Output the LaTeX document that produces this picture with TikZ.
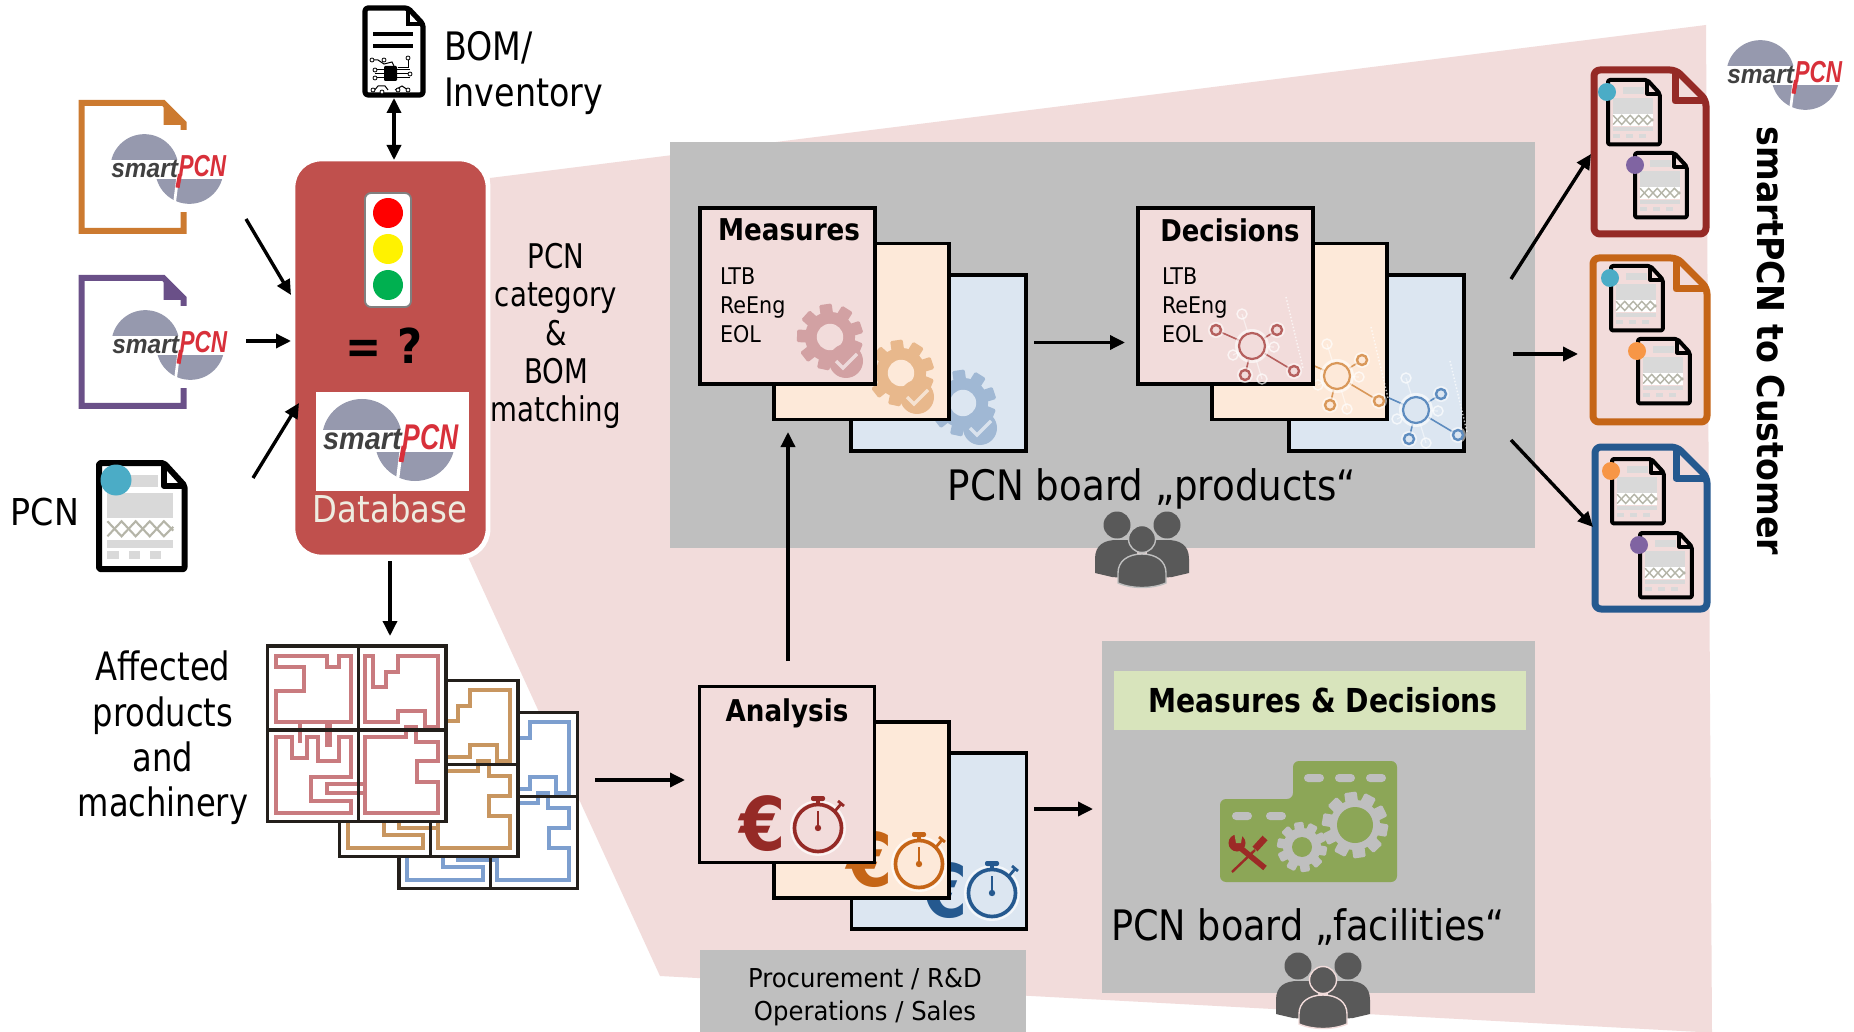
\documentclass[tikz,border=0pt]{standalone}
\usepackage{fontspec}
\usetikzlibrary{arrows.meta,shapes.misc}
\setmainfont{DejaVu Sans Condensed}
\newfontfamily\logofont{Liberation Sans}
\def\uu{0.5pt}
\definecolor{pinkbg}{HTML}{F2DCDB}
\definecolor{cardpeach}{HTML}{FDE9D9}
\definecolor{cardblue}{HTML}{DCE6F1}
\definecolor{panel}{HTML}{BFBFBF}
\definecolor{dbred}{HTML}{C0504D}
\definecolor{hdrgreen}{HTML}{D8E4BC}
\definecolor{factory}{HTML}{8CA657}
\definecolor{toolred}{HTML}{9C2A26}
\definecolor{peoplegray}{HTML}{595959}
\definecolor{logogray}{HTML}{9699AE}
\definecolor{logored}{HTML}{D8303A}
\definecolor{docred}{HTML}{952A26}
\definecolor{docorange}{HTML}{C56517}
\definecolor{docblue}{HTML}{25598F}
\definecolor{docpurple}{HTML}{6A5088}
\definecolor{doctan}{HTML}{CC7A30}
\definecolor{dotblue}{HTML}{4BACC6}
\definecolor{dotpurple}{HTML}{8064A2}
\definecolor{dotorange}{HTML}{F79646}
\definecolor{dbtext}{HTML}{EEECE1}
\definecolor{pcbframe}{HTML}{231F1B}
\definecolor{barGray}{HTML}{D9D9D9}
\definecolor{meshGray}{HTML}{B5B5A8}
\definecolor{lightgreen}{HTML}{00B050}
\definecolor{tracepink}{HTML}{C97B7F}
\definecolor{tracetan}{HTML}{C89660}
\definecolor{traceblue}{HTML}{7D9FCF}
\definecolor{gearpink}{HTML}{D2A1A3}
\definecolor{gearpeach}{HTML}{E8B88C}
\definecolor{gearblue}{HTML}{A0B8D4}
\definecolor{netpink}{HTML}{B5605E}
\definecolor{netpeach}{HTML}{D9985A}
\definecolor{netblue}{HTML}{5E8CBF}
\tikzset{
  conn/.style={line width=1.7pt,-{Triangle[length=7.5pt,width=7pt]}},
  connboth/.style={line width=1.7pt,{Triangle[length=7.5pt,width=7pt]}-{Triangle[length=7.5pt,width=7pt]}},
  card/.style={draw=black,line width=1.8pt,minimum width=175*\uu,minimum height=176*\uu,inner sep=0pt,outer sep=0pt},
  panelbox/.style={fill=panel,inner sep=0pt,outer sep=0pt},
  lbl/.style={inner sep=0pt,outer sep=0pt,align=center,text=black},
}
\newcommand{\logomark}[4]{% name,x,y,scale
  \begin{scope}[shift={(#2,#3)},scale=#4]
    \begin{scope}\clip (-70,-50) rectangle (70,-11);\fill[logogray] (-29,-1) circle (40);\end{scope}
    \begin{scope}\clip (-70,12) rectangle (70,50);\fill[logogray] (24,1) circle (40);\end{scope}
    \draw[white,line width=1.6pt*#4] (10,12)--(6,44);
    \draw[logored,line width=2.4pt*#4] (13,6)--(10,22);
    \node[inner sep=0pt,anchor=east,text=black!75,xscale=.93*#4,yscale=#4] (#1s) at (11,0)
      {\logofont\bfseries\itshape\fontsize{15.5}{15.5}\selectfont smart};
    \node[inner sep=0pt,anchor=west,text=logored,xscale=.78*#4,yscale=1.05*#4] (#1p) at (11,-3)
      {\logofont\bfseries\itshape\fontsize{17}{17}\selectfont PCN};
  \end{scope}}
\newcommand{\tandoc}[4]{% x0,y0,y1,colour
  \draw[#4,line width=3pt] (#1+102,#3-20)--(#1+102,#3)--(#1,#3)--(#1,#2)--(#1+82,#2)--(#1+102,#2+20)--(#1+102,#2+30);
  \fill[#4] (#1+82,#2)--(#1+104,#2+20)--(#1+104,#2+22)--(#1+82,#2+22)--cycle;}
\newcommand{\sheet}[4]{% x,y,scale,line width
  \begin{scope}[shift={(#1,#2)},scale=#3]
    \fill[barGray] (26,13) rectangle (63,25);
    \fill[barGray] (9,32) rectangle (79,59);
    \fill[white] (9,60) rectangle (79,80);
    \draw[meshGray,line width=.9pt*#3+.2pt] (9,62)--(24,78)--(39,62)--(54,78)--(69,62)--(79,72);
    \draw[meshGray,line width=.9pt*#3+.2pt] (9,78)--(24,62)--(39,78)--(54,62)--(69,78)--(79,68);
    \fill[barGray] (9,82) rectangle (79,90);
    \fill[barGray] (9,94) rectangle (21,102);
    \fill[barGray] (32,94) rectangle (44,102);
    \fill[barGray] (54,94) rectangle (66,102);
    \draw[black,line width=#4,rounded corners=1pt,line join=round] (0,0)--(69,0)--(91,24)--(91,113)--(0,113)--cycle;
    \draw[black,line width=#4,line join=round] (69,0)--(69,24)--(91,24);
  \end{scope}}
\newcommand{\bigdoc}[5]{% x0,y0,x1,y1,colour
  \draw[#5,line width=3.5pt,rounded corners=3pt,line join=round] (#1,#2)--(#3-30,#2)--(#3,#2+30)--(#3,#4)--(#1,#4)--cycle;
  \draw[#5,line width=3.5pt,line join=round] (#3-31,#2)--(#3-31,#2+31)--(#3,#2+31);}
\newcommand{\gearicon}[6]{% x,y,r,colour,hole colour,n
  \begin{scope}[shift={(#1,#2)}]
    \fill[#4] (0,0) circle (0.76*#3);
    \foreach \ang in {1,...,#6}{\fill[#4,rotate=\ang*360/#6+8,rounded corners=.7pt] (-.19*#3,-#3) rectangle (.19*#3,-.6*#3);}
    \fill[#5] (0,0) circle (0.4*#3);
  \end{scope}}
\newcommand{\checkbadge}[3]{% x,y,colour
  \begin{scope}[shift={(#1,#2)}]
    \fill[#3] (0,0) circle (17);
    \draw[white,opacity=.6,line width=1.6pt] (-10,0)--(-3,7)--(11,-7);
  \end{scope}}
\newcommand{\neticon}[4]{% dx,dy,colour,bg
  \begin{scope}[shift={(#1,#2)}]
    \draw[white,opacity=.7,densely dotted,line width=.7pt] (1286,297)--(1303,368);
    \foreach \px/\py in {1242/314,1233/355,1274/347,1262/379}{
      \draw[white,opacity=.5,line width=.6pt] (1252,346)--(\px,\py);
      \draw[white,opacity=.7,line width=.7pt] (\px,\py) circle (5);}
    \foreach \px/\py in {1216/330,1277/330,1245/375,1294/371}{
      \draw[#3,line width=.8pt] (1252,346)--(\px,\py);
      \fill[white,opacity=.55] (\px,\py) circle (8);
      \draw[#3,fill=#4,line width=1.2pt] (\px,\py) circle (5);}
    \draw[white,fill=#4,line width=2pt,opacity=.6] (1252,346) circle (15);
    \draw[#3,fill=#4,line width=1.1pt] (1252,346) circle (13);
  \end{scope}}
\newcommand{\swatch}[3]{% x,y,colour
  \begin{scope}[shift={(#1,#2)}]
    \draw[white,opacity=.7,line width=1pt] (0,0) circle (27);
    \draw[#3,line width=1.8pt] (0,0) circle (23.5);
    \fill[#3,rounded corners=1pt] (-7,-32) rectangle (7,-27);
    \fill[#3] (-2,-28) rectangle (2,-23);
    \draw[#3,line width=1.4pt] (17,-17)--(23,-24);
    \draw[#3,line width=1.4pt] (20,-27)--(26,-22);
    \draw[#3,line width=1pt] (0,-17)--(0,0);
    \fill[#3] (0,0) circle (3.2);
  \end{scope}}
\newcommand{\peopleicon}[3]{% cx,y head,halo
  \begin{scope}[shift={(#1,#2)}]
    \foreach \sgn in {-1,1}{
      \fill[peoplegray] (\sgn*25,-14) circle (13.5);
      \fill[peoplegray] (\sgn*47,34) -- (\sgn*47,20) .. controls (\sgn*47,6) and (\sgn*38,1) .. (\sgn*25,1)
         -- (\sgn*5,1) -- (\sgn*5,40) -- (\sgn*30,38) -- cycle;}
    \draw[#3,fill=peoplegray,line width=.7pt] (0,0) circle (13.5);
    \draw[#3,fill=peoplegray,line width=.7pt] (-24,44) -- (-24,34) .. controls (-24,22) and (-14,15) .. (0,15)
       .. controls (14,15) and (24,22) .. (24,34) -- (24,44) .. controls (10,50) and (-10,50) .. (-24,44) -- cycle;
  \end{scope}}
\newcommand{\pcbsheet}[3]{% dx,dy,trace colour
  \begin{scope}[x=0.20408pt,y=-0.16667pt,shift={(#1,1680+#2)}]
    \fill[white] (655,258) rectangle (1092,785);
    \begin{scope}[#3,line width=2pt,line join=miter]
      \draw (675,287)--(800,287)--(800,322)--(830,322)--(830,287)--(860,287)--(860,487)--(675,487)--(675,392)--(745,392)--(745,322)--(675,322)--cycle;
      \draw (895,287)--(915,287)--(915,380)--(945,380)--(945,335)--(975,335)--(975,287)--(1072,287)--(1072,500)--(1040,500)--(1040,452)--(975,452)--(975,487)--(895,487)--cycle;
      \draw (675,530)--(715,530)--(715,595)--(752,595)--(752,530)--(780,530)--(780,603)--(830,603)--(830,530)--(860,530)--(860,652)--(763,652)--(763,722)--(860,722)--(860,760)--(675,760)--cycle;
      \draw (895,672)--(800,672)--(800,700)--(895,700);
      \draw (895,700)--(895,530)--(995,530)--(995,500)--(1020,500)--(1020,545)--(1072,545)--(1072,603)--(1022,603)--(1022,665)--(1072,665)--(1072,760)--(895,760)--cycle;
      \draw[line width=3.2pt] (805,490)--(805,560);
      \draw (735,490)--(735,548);
    \end{scope}
    \draw[pcbframe,line width=1.8pt] (655,258) rectangle (1092,785);
    \draw[pcbframe,line width=1.6pt] (878,258)--(878,785);
    \draw[pcbframe,line width=1.6pt] (655,510)--(1092,510);
  \end{scope}}
\begin{document}
\begin{tikzpicture}[x=0.5pt,y=-0.5pt]
\useasboundingbox (0,0) rectangle (1854,1032);
\fill[white] (0,0) rectangle (1854,1032);
% pink funnel
\fill[pinkbg] (490,178)--(1706,25)--(1712,1032)--(1700,1032)--(660,976)--(468,557)--cycle;
% grey panels
\node[panelbox,minimum width=865*\uu,minimum height=406*\uu] (pnlprod) at (1102,345) {};
\node[panelbox,minimum width=433*\uu,minimum height=352*\uu] (pnlfac) at (1318.5,817) {};
\node[panelbox,minimum width=326*\uu,minimum height=82*\uu] (pnlteam) at (863,991) {};
% database
\node[draw=white,fill=dbred,line width=2.4pt,rounded corners=14pt,minimum width=195*\uu,minimum height=398*\uu,inner sep=0pt,outer sep=0pt] (db) at (390.5,358) {};
\node[draw=black!50,fill=white,line width=.9pt,rounded corners=3pt,minimum width=46*\uu,minimum height=114*\uu,inner sep=0pt] (traffic) at (388,250) {};
\fill[red] (388,213) circle (15);
\fill[yellow] (388,249) circle (15);
\fill[lightgreen] (388,285) circle (15);
\node[lbl,font=\bfseries\fontsize{24}{24}\selectfont] (eqq) at (384,346) {= ?};
\node[fill=white,minimum width=153*\uu,minimum height=99*\uu,inner sep=0pt] (dblogo) at (392.5,441.5) {};
\logomark{ldb}{391}{440}{1}
\node[lbl,text=dbtext,xscale=.97,font=\fontsize{18.5}{18.5}\selectfont] (dbname) at (390,509) {Database};
% input documents
\tandoc{81.5}{103}{231}{doctan}
\fill[white] (105,130) rectangle (236,212);
\logomark{l1}{169}{169}{.85}
\tandoc{81.5}{278}{406}{docpurple}
\fill[white] (105,306) rectangle (236,388);
\logomark{l2}{170}{345}{.85}
\sheet{99}{463}{.94}{3pt}
\fill[dotblue] (116,480) circle (15.5);
\node[lbl,font=\fontsize{18.5}{18.5}\selectfont] (pcnlbl) at (45,512) {PCN};
% BOM document
\draw[black,line width=2.6pt,rounded corners=1.5pt,line join=round] (365,8)--(408,8)--(423,24)--(423,95)--(365,95)--cycle;
\draw[black,line width=1.8pt] (408,8)--(408,24)--(423,24);
\draw[black,line width=1.6pt] (373,34)--(413,34);
\draw[black,line width=1.6pt] (373,46)--(413,46);
\fill[black,rounded corners=.6pt] (384,66) rectangle (397,81);
\foreach \yy in {70,74,78}{\draw[black,line width=.5pt] (375,\yy)--(384,\yy);\draw[black,line width=.5pt] (397,\yy)--(410,\yy);}
\draw[black,line width=.5pt] (372,60)--(378,60)--(384,64)--(392,62)--(394,66);
\draw[black,line width=.5pt] (408,59)--(408,68)--(398,68);
\draw[black,line width=.5pt] (373,92)--(378,86)--(385,86)--(388,90);
\draw[black,line width=.5pt] (395,90)--(402,86)--(408,90);
\foreach \px/\py in {372/60,384/60,408/58,375/70,375/78,410/74,373/90,382/92,398/90,408/90}{\draw[black,line width=.4pt,fill=white] (\px,\py) circle (2);}
\node[lbl,anchor=west,align=left,xscale=1,yscale=1.06,font=\fontsize{18.5}{21.3}\selectfont] (bomlbl) at (444,73) {BOM/\\Inventory};
\node[lbl,xscale=.93,yscale=1.03,font=\fontsize{16.5}{18.5}\selectfont] (matchlbl) at (556,336) {PCN\\category\\\&\\BOM\\matching};
% affected products
\node[lbl,xscale=.94,yscale=1.03,font=\fontsize{19}{22}\selectfont] (afflbl) at (163,738) {Affected\\products\\and\\machinery};
\pcbsheet{323}{200}{traceblue}
\pcbsheet{177}{104}{tracetan}
\pcbsheet{0}{0}{tracepink}
% measures stack
\node[card,fill=cardblue] (mback) at (938.5,363) {};
\gearicon{963}{403}{33}{gearblue}{cardblue}{9}
\checkbadge{980}{428}{gearblue}
\node[card,fill=cardpeach] (mmid) at (861.5,331.5) {};
\gearicon{901}{373}{33}{gearpeach}{cardpeach}{9}
\checkbadge{917}{397}{gearpeach}
\node[card,fill=pinkbg] (mfront) at (787.5,296) {};
\gearicon{830}{337}{33}{gearpink}{pinkbg}{9}
\checkbadge{846}{361}{gearpink}
\node[lbl,xscale=.97,font=\bfseries\fontsize{15}{15}\selectfont] (mtitle) at (789,230) {Measures};
\node[lbl,anchor=west,align=left,font=\fontsize{11.5}{14.5}\selectfont] (mlist) at (720,305) {LTB\\ReEng\\EOL};
% decisions stack
\node[card,fill=cardblue] (dback) at (1376.5,363) {};
\neticon{164}{64}{netblue}{cardblue}
\node[card,fill=cardpeach] (dmid) at (1299.5,331.5) {};
\neticon{85}{30}{netpeach}{cardpeach}
\node[card,fill=pinkbg] (dfront) at (1225.5,296) {};
\neticon{0}{0}{netpink}{pinkbg}
\node[lbl,xscale=.96,font=\bfseries\fontsize{15}{15}\selectfont] (dtitle) at (1230,230) {Decisions};
\node[lbl,anchor=west,align=left,font=\fontsize{11.5}{14.5}\selectfont] (dlist) at (1162,305) {LTB\\ReEng\\EOL};
\node[lbl,xscale=.985,font=\fontsize{21}{21}\selectfont] (prodlbl) at (1152,489) {PCN board „products“};
\peopleicon{1142}{539}{panel}
% analysis stack
\node[card,fill=cardblue] (aback) at (939,841) {};
\node[lbl,text=docblue,font=\bfseries\fontsize{37}{37}\selectfont] (eur3) at (945,891) {€};
\swatch{992}{893}{docblue}
\node[card,fill=cardpeach] (amid) at (861.5,810) {};
\node[lbl,text=docorange,font=\bfseries\fontsize{37}{37}\selectfont] (eur2) at (870,860) {€};
\swatch{919}{864}{docorange}
\node[card,fill=pinkbg] (afront) at (787,774.5) {};
\node[lbl,text=docred,font=\bfseries\fontsize{37}{37}\selectfont] (eur1) at (763,824) {€};
\swatch{818}{828}{docred}
\node[lbl,xscale=.97,font=\bfseries\fontsize{15}{15}\selectfont] (atitle) at (787,713.5) {Analysis};
\node[lbl,xscale=1.04,font=\fontsize{13}{16.5}\selectfont] (teamlbl) at (865,997) {Procurement / R\&D\\Operations / Sales};
% facilities panel
\node[fill=hdrgreen,minimum width=412*\uu,minimum height=59*\uu,inner sep=0pt] (hdr) at (1320,700.5) {};
\node[lbl,xscale=.95,font=\bfseries\fontsize{16.5}{16.5}\selectfont] (hdrtxt) at (1323,700.5) {Measures \& Decisions};
\fill[factory,rounded corners=3pt] (1220,799)--(1293,799)--(1293,761)--(1397,761)--(1397,882)--(1220,882)--cycle;
\foreach \px in {1314,1345,1376}{\fill[panel,rounded corners=2pt] (\px-10,774) rectangle (\px+10,782);}
\foreach \px in {1242,1276}{\fill[panel,rounded corners=2pt] (\px-10,812) rectangle (\px+10,820);}
\gearicon{1355}{825}{33}{panel}{factory}{10}
\fill[factory] (1355,825) circle (18);
\gearicon{1302}{847}{25}{panel}{factory}{10}
\draw[toolred,line width=1.2pt] (1255,850)--(1232,872);
\draw[toolred,line width=3.4pt] (1265,838)--(1255,849);
\draw[toolred,line width=2.8pt] (1238,846)--(1265,868);
\fill[toolred] (1237,843) circle (8.5);
\fill[factory] (1234,832)--(1243,831)--(1241,843)--(1236,843)--cycle;
\node[lbl,xscale=.97,font=\fontsize{21}{21}\selectfont] (faclbl) at (1308,927) {PCN board „facilities“};
\peopleicon{1323}{980}{pinkbg}
% output documents
\bigdoc{1594}{70}{1706}{234}{docred}
\sheet{1608}{80}{.57}{2pt}
\fill[dotblue] (1607,92) circle (9);
\sheet{1635}{153}{.57}{2pt}
\fill[dotpurple] (1635,165) circle (9);
\bigdoc{1593}{258}{1707}{422}{docorange}
\sheet{1611}{266}{.57}{2pt}
\fill[dotblue] (1610,278) circle (9);
\sheet{1638}{339}{.57}{2pt}
\fill[dotorange] (1637,351) circle (9);
\bigdoc{1595}{447}{1707}{609}{docblue}
\sheet{1612}{459}{.57}{2pt}
\fill[dotorange] (1611,471) circle (9);
\sheet{1640}{533}{.57}{2pt}
\fill[dotpurple] (1639,545) circle (9);
\logomark{l3}{1785}{75}{.85}
\node[lbl,rotate=-90,font=\bfseries\fontsize{18.5}{18.5}\selectfont] (custlbl) at (1771,341) {smartPCN to Customer};
% connectors
\coordinate (bomtip) at (394,98);
\coordinate (dbtop) at (394,160);
\draw[connboth] (bomtip)--(dbtop);
\coordinate (in1s) at (246,219); \coordinate (in1e) at (291,295);
\coordinate (in2s) at (246,341); \coordinate (in2e) at (291,341);
\coordinate (in3s) at (253,478); \coordinate (in3e) at (299,403);
\draw[conn] (in1s)--(in1e);
\draw[conn] (in2s)--(in2e);
\draw[conn] (in3s)--(in3e);
\coordinate (dbdowns) at (390,561); \coordinate (dbdowne) at (390,636);
\draw[conn] (dbdowns)--(dbdowne);
\coordinate (pcbs) at (595,780); \coordinate (pcbe) at (685,780);
\draw[conn] (pcbs)--(pcbe);
\coordinate (anups) at (788,661); \coordinate (anupe) at (788,432);
\draw[conn] (anups)--(anupe);
\coordinate (m2ds) at (1034,342.5); \coordinate (m2de) at (1125,342.5);
\draw[conn] (m2ds)--(m2de);
\coordinate (a2fs) at (1034,809); \coordinate (a2fe) at (1093,809);
\draw[conn] (a2fs)--(a2fe);
\coordinate (o1s) at (1511,279); \coordinate (o1e) at (1591,154);
\coordinate (o2s) at (1513,354); \coordinate (o2e) at (1578,354);
\coordinate (o3s) at (1511,440); \coordinate (o3e) at (1593,527);
\draw[conn] (o1s)--(o1e);
\draw[conn] (o2s)--(o2e);
\draw[conn] (o3s)--(o3e);
\end{tikzpicture}
\end{document}
